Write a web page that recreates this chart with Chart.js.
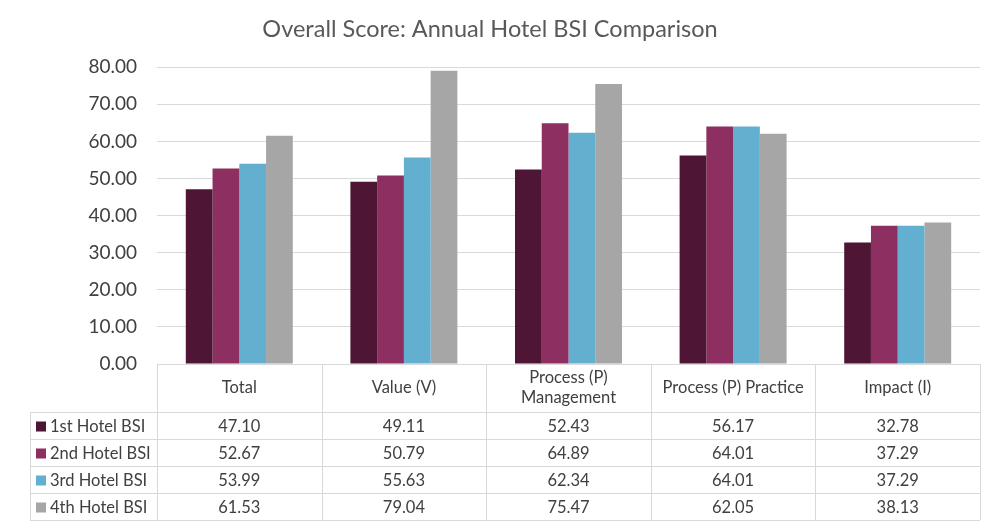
<!DOCTYPE html>
<html lang="en">
<head>
    <meta charset="UTF-8">
    <script src="https://cdn.jsdelivr.net/npm/chart.js"></script>
    <title>Overall Score: Annual Hotel BSI Comparison</title>
    <style>
        body {
            margin: 0;
            background: #fff;
        }
        #wrap {
            width: 1000px;
            height: 530px;
        }
    </style>
</head>
<body>
<div id="wrap">
    <canvas id="bsiChart" width="1000" height="530"></canvas>
</div>
<script>
    const categories = ['Total', 'Value (V)', ['Process (P)', 'Management'], 'Process (P) Practice', 'Impact (I)'];
    const seriesNames = ['1st Hotel BSI', '2nd Hotel BSI', '3rd Hotel BSI', '4th Hotel BSI'];
    const bsi1 = [47.10, 49.11, 52.43, 56.17, 32.78];
    const bsi2 = [52.67, 50.79, 64.89, 64.01, 37.29];
    const bsi3 = [53.99, 55.63, 62.34, 64.01, 37.29];
    const bsi4 = [61.53, 79.04, 75.47, 62.05, 38.13];
    const seriesColors = ['#4E1534', '#8D2F60', '#63AFCF', '#A6A6A6'];
    const yTicks = [0, 10, 20, 30, 40, 50, 60, 70, 80];

    const FONT = 'Lato, "Open Sans", sans-serif';
    const TEXT = '#404040';
    const LINE = '#D9D9D9';

    // draws the data table under the plot, columns follow the x scale
    const dataTable = {
        id: 'dataTable',
        afterDraw(chart) {
            const ctx = chart.ctx;
            const xs = chart.scales.x;
            const area = chart.chartArea;
            const n = categories.length;
            const step = (area.right - area.left) / n;
            const headTop = area.bottom;
            const headBottom = headTop + 48;
            const rowH = 27;
            const legendLeft = 30;
            const tableBottom = headBottom + rowH * seriesNames.length;

            ctx.save();
            ctx.strokeStyle = LINE;
            ctx.lineWidth = 1;

            // horizontal lines
            ctx.beginPath();
            ctx.moveTo(area.left, headTop + 0.5);
            ctx.lineTo(area.right, headTop + 0.5);
            for (let r = 0; r <= seriesNames.length; r++) {
                const y = Math.round(headBottom + r * rowH) + 0.5;
                ctx.moveTo(legendLeft, y);
                ctx.lineTo(area.right, y);
            }
            // vertical lines
            for (let i = 0; i <= n; i++) {
                const x = Math.round(xs.getPixelForValue(i) - step / 2) + 0.5;
                ctx.moveTo(x, headTop);
                ctx.lineTo(x, tableBottom);
            }
            ctx.moveTo(legendLeft + 0.5, headBottom);
            ctx.lineTo(legendLeft + 0.5, tableBottom);
            ctx.stroke();

            ctx.fillStyle = TEXT;
            ctx.font = '16.5px ' + FONT;
            ctx.textAlign = 'center';
            ctx.textBaseline = 'middle';

            // header
            categories.forEach((c, i) => {
                const cx = xs.getPixelForValue(i);
                const mid = (headTop + headBottom) / 2;
                if (Array.isArray(c)) {
                    ctx.fillText(c[0], cx, mid - 10);
                    ctx.fillText(c[1], cx, mid + 10);
                } else {
                    ctx.fillText(c, cx, mid);
                }
            });

            // rows
            const rows = [bsi1, bsi2, bsi3, bsi4];
            rows.forEach((vals, r) => {
                const cy = headBottom + r * rowH + rowH / 2 + 1;
                vals.forEach((v, i) => {
                    ctx.textAlign = 'center';
                    ctx.fillText(v.toFixed(2), xs.getPixelForValue(i), cy);
                });
                ctx.fillStyle = seriesColors[r];
                ctx.fillRect(36, cy - 5, 10, 10);
                ctx.fillStyle = TEXT;
                ctx.textAlign = 'left';
                ctx.fillText(seriesNames[r], 50, cy);
            });
            ctx.restore();
        }
    };

    const rows = [bsi1, bsi2, bsi3, bsi4];
    new Chart(document.getElementById('bsiChart'), {
        type: 'bar',
        data: {
            labels: categories,
            datasets: seriesNames.map((name, i) => ({
                label: name,
                data: rows[i],
                backgroundColor: seriesColors[i],
                categoryPercentage: 0.65,
                barPercentage: 1.0
            }))
        },
        options: {
            responsive: false,
            animation: false,
            layout: {
                padding: { left: 0, right: 20, top: 0, bottom: 166 }
            },
            plugins: {
                legend: { display: false },
                tooltip: { enabled: false },
                title: {
                    display: true,
                    text: 'Overall Score: Annual Hotel BSI Comparison',
                    color: '#595959',
                    font: { family: FONT, size: 23.5, weight: 'normal' },
                    padding: { top: 15, bottom: 24 }
                }
            },
            scales: {
                x: {
                    display: false
                },
                y: {
                    min: 0,
                    max: 80,
                    afterBuildTicks(scale) {
                        scale.ticks = yTicks.map(v => ({ value: v }));
                    },
                    afterFit(scale) {
                        scale.width = 157;
                    },
                    grid: { color: LINE, drawTicks: false },
                    border: { display: false },
                    ticks: {
                        color: TEXT,
                        padding: 20,
                        font: { family: FONT, size: 19 },
                        callback: v => v.toFixed(2)
                    }
                }
            }
        },
        plugins: [dataTable]
    });
</script>
</body>
</html>
